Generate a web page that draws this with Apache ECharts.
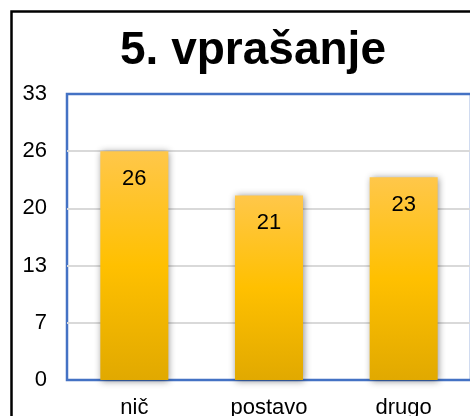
<!DOCTYPE html>
<html>
<head>
<meta charset="utf-8">
<script src="https://cdn.jsdelivr.net/npm/echarts@6/dist/echarts.min.js"></script>
<style>
  html, body { margin: 0; padding: 0; background: #fff; }
  #chart { width: 470px; height: 416px; }
</style>
</head>
<body>
<div id="chart"></div>
<script>
var titleText = '5. vprašanje';
var categories = ['nič', 'postavo', 'drugo'];
var values = [26.4, 21.3, 23.4];
var axisMax = 33;
var axisStep = 6.6;

var chart = echarts.init(document.getElementById('chart'));

var option = {
    animation: false,
    backgroundColor: '#fff',
    title: {
        text: titleText,
        left: 248,
        top: 23,
        textAlign: 'center',
        textStyle: {
            fontFamily: 'Liberation Sans, Arial, sans-serif',
            fontSize: 46,
            fontWeight: 'bold',
            color: '#000'
        }
    },
    graphic: [{
        type: 'rect',
        shape: { x: 11.5, y: 11.5, width: 600, height: 600 },
        style: { fill: 'none', stroke: '#000', lineWidth: 2.5 },
        z: 10
    }],
    grid: {
        left: 67,
        top: 94,
        right: -1,
        bottom: 36,
        containLabel: false,
        outerBoundsMode: 'none',
        show: true,
        borderColor: '#4472C4',
        borderWidth: 2.5,
        backgroundColor: 'transparent'
    },
    xAxis: {
        type: 'category',
        data: categories,
        axisLine: { show: false },
        axisTick: { show: false },
        axisLabel: {
            margin: 17,
            fontFamily: 'Liberation Sans, Arial, sans-serif',
            fontSize: 22,
            color: '#000'
        }
    },
    yAxis: {
        type: 'value',
        min: 0,
        max: axisMax,
        interval: axisStep,
        axisLine: { show: false },
        axisTick: { show: false },
        splitLine: {
            showMinLine: false,
            showMaxLine: false,
            lineStyle: { color: '#D9D9D9', width: 2 }
        },
        axisLabel: {
            margin: 20,
            fontFamily: 'Liberation Sans, Arial, sans-serif',
            fontSize: 22,
            color: '#000',
            formatter: function (v) { return String(Math.round(v)); }
        }
    },
    series: [{
        type: 'bar',
        data: values,
        barWidth: 68,
        itemStyle: {
            color: new echarts.graphic.LinearGradient(0, 0, 0, 1, [
                { offset: 0, color: '#FFC74A' },
                { offset: 0.5, color: '#FFC000' },
                { offset: 1, color: '#E1A900' }
            ]),
            shadowColor: 'rgba(0,0,0,0.45)',
            shadowBlur: 7,
            shadowOffsetX: 1,
            shadowOffsetY: 1
        },
        label: {
            show: true,
            position: 'insideTop',
            distance: 17,
            fontFamily: 'Liberation Sans, Arial, sans-serif',
            fontSize: 22,
            color: '#000',
            formatter: function (p) { return String(Math.round(p.value)); }
        }
    }]
};

chart.setOption(option);
</script>
</body>
</html>
